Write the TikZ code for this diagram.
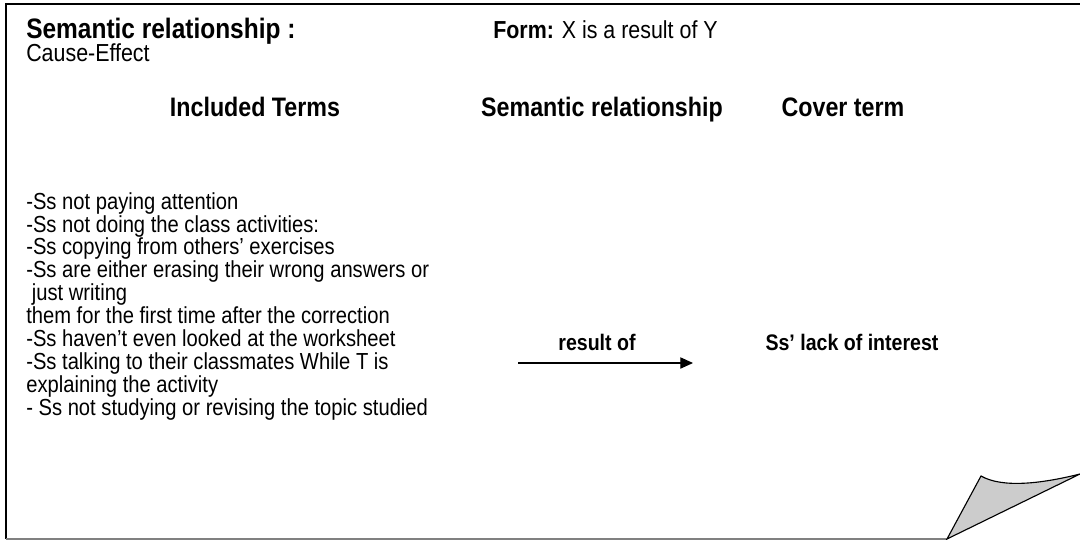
\documentclass[tikz,border=0pt]{standalone}
\usepackage{fontspec}
\setmainfont[FakeStretch=0.87]{Liberation Sans}
\usetikzlibrary{arrows.meta, positioning}

\begin{document}
\begin{tikzpicture}[x=0.025cm, y=-0.025cm,
    every node/.style={inner sep=0pt, anchor=base west, font=\fontsize{17.5}{20}\selectfont},
    headtext/.style={font=\fontsize{20}{23}\selectfont\bfseries},
    coltitle/.style={anchor=base, font=\fontsize{19}{22}\selectfont\bfseries},
    arrowtext/.style={anchor=base, font=\fontsize{16}{18}\selectfont\bfseries}]
    \useasboundingbox (0,0) rectangle (1080,540);

    % Page with folded corner
    \draw[line width=1.4pt] (1090,4) -- (6,4) -- (6,539);
    \draw[gray, line width=0.8pt] (6,539) -- (947,539);
    \filldraw[fill=black!20, line width=0.8pt] (947,539) -- (981,476) .. controls (1002,488) and (1040,484) .. (1080,474) -- cycle;

    % Header
    \node[headtext] (semrel) at (26,38) {Semantic relationship :};
    \node (cause) at (26,61) {Cause-Effect};
    \node (form) at (493,38) {\textbf{Form:} X is a result of Y};

    % Column titles
    \node[coltitle] (incl) at (255,116) {Included Terms};
    \node[coltitle] (relcol) at (602,116) {Semantic relationship};
    \node[coltitle] (cover) at (843,116) {Cover term};

    % Included terms
    \node[align=left, anchor=north west, font=\fontsize{16.5}{16.3}\selectfont] (terms) at (26,192) {-Ss not paying attention\\
        -Ss not doing the class activities:\\
        -Ss copying from others’ exercises\\
        -Ss are either erasing their wrong answers or\\
        \ just writing\\
        them for the first time after the correction\\
        -Ss haven’t even looked at the worksheet\\
        -Ss talking to their classmates While T is\\
        explaining the activity\\
        - Ss not studying or revising the topic studied};

    % Relationship
    \node[arrowtext] (result) at (597,350) {result of};
    \coordinate (arrS) at (518,363);
    \coordinate (arrE) at (693,363);
    \draw[-{Triangle[length=9pt, width=8pt]}, line width=0.8pt] (arrS) -- (arrE);
    \node[arrowtext] (lack) at (852,350) {Ss’ lack of interest};
\end{tikzpicture}
\end{document}
